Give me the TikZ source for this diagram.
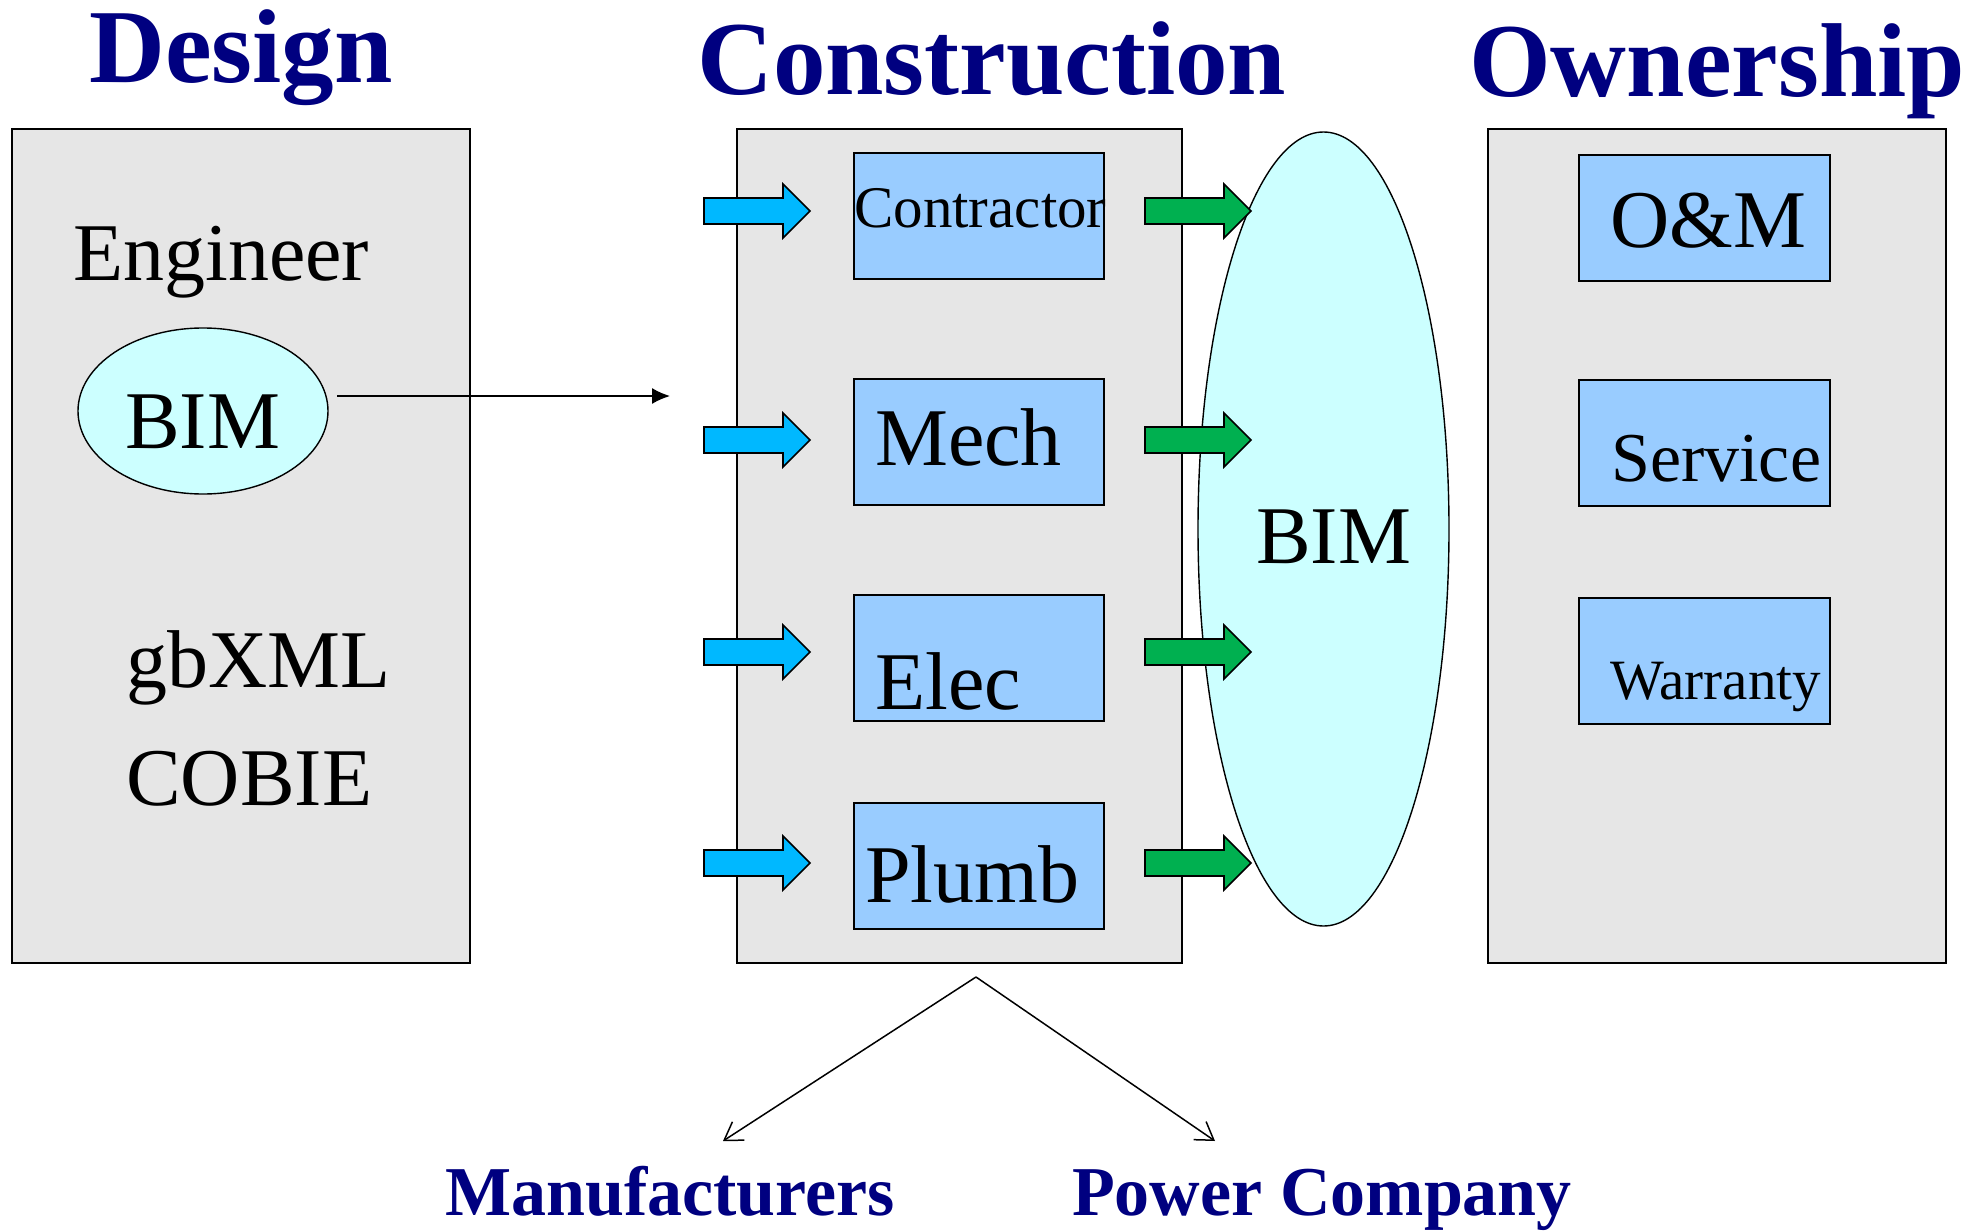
\documentclass[tikz,border=0pt]{standalone}
\usepackage{fontspec}
\setmainfont{Liberation Serif}
\usetikzlibrary{shapes.geometric,arrows.meta}
\definecolor{panelgray}{HTML}{E6E6E6}
\definecolor{boxblue}{HTML}{99CCFF}
\definecolor{bimcyan}{HTML}{CCFFFF}
\definecolor{arrblue}{HTML}{00B8FF}
\definecolor{arrgreen}{HTML}{00B050}
\definecolor{titlenavy}{HTML}{000080}
\begin{document}
\begin{tikzpicture}[x=1pt,y=-1pt,
  panel/.style={draw, fill=panelgray, line width=1.8pt, rectangle, inner sep=0pt, anchor=north west, minimum height=834pt},
  rolebox/.style={draw, fill=boxblue, line width=1.8pt, rectangle, inner sep=0pt, anchor=north west, minimum width=250pt, minimum height=126pt},
  bimoval/.style={draw, fill=bimcyan, line width=1.4pt, ellipse, inner sep=0pt},
  lbl/.style={anchor=base west, inner sep=0pt, font=\fontsize{82}{90}\selectfont},
  ttl/.style={anchor=base west, inner sep=0pt, text=titlenavy, font=\fontsize{105}{110}\selectfont\bfseries},
  subttl/.style={anchor=base west, inner sep=0pt, text=titlenavy, font=\fontsize{70}{76}\selectfont\bfseries},
  thinarrow/.style={line width=1.5pt},
  blockarr/.pic={\filldraw[fill=#1, draw=black, line width=1.6pt, line join=miter]
     (0,-13) -- (79,-13) -- (79,-27) -- (106,0) -- (79,27) -- (79,13) -- (0,13) -- cycle;}
]
\useasboundingbox[fill=white] (0,0) rectangle (1984,1231);

% panels
\node[panel, minimum width=458pt] (design) at (11,128) {};
\node[panel, minimum width=445pt] (constr) at (736,128) {};
\node[panel, minimum width=458pt] (owner) at (1487,128) {};

% construction role boxes
\node[rolebox] (contractor) at (853,152) {};
\node[rolebox] (mech) at (853,378) {};
\node[rolebox] (elec) at (853,594) {};
\node[rolebox] (plumb) at (853,802) {};

% ownership boxes
\node[rolebox, minimum width=251pt] (om) at (1578,154) {};
\node[rolebox, minimum width=251pt] (service) at (1578,379) {};
\node[rolebox, minimum width=251pt] (warranty) at (1578,597) {};

% ellipses
\node[bimoval, minimum width=250pt, minimum height=166pt] (bimsmall) at (203,411) {};
\node[bimoval, minimum width=251pt, minimum height=794pt] (bimbig) at (1323.5,529) {};

% titles
\node[ttl] (tdesign) at (89,82) {Design};
\node[ttl] (tconstr) at (697,95) {Construction};
\node[ttl] (towner) at (1469,96) {Ownership};

% design panel texts
\node[lbl] (tengineer) at (73,280) {Engineer};
\node[lbl] (tbimsmall) at (125,448) {BIM};
\node[lbl] (tgbxml) at (126,687) {gbXML};
\node[lbl] (tcobie) at (126,805) {COBIE};

% construction texts
\node[lbl, font=\fontsize{59}{64}\selectfont] (tcontractor) at (854,227) {Contractor};
\node[lbl] (tmech) at (875,465) {Mech};
\node[lbl] (telec) at (875,709) {Elec};
\node[lbl] (tplumb) at (865,902) {Plumb};
\node[lbl] (tbimbig) at (1256,563) {BIM};

% ownership texts
\node[lbl] (tom) at (1610,247) {O\&M};
\node[lbl, font=\fontsize{70}{76}\selectfont] (tservice) at (1611,481) {Service};
\node[lbl, font=\fontsize{57}{62}\selectfont] (twarranty) at (1610,699) {Warranty};

% bottom labels
\node[subttl] (tmanu) at (445,1215) {Manufacturers};
\node[subttl] (tpower) at (1072,1215) {Power Company};

% block arrows
\pic (ba1) at (704,211) {blockarr=arrblue};
\pic (ba2) at (704,440) {blockarr=arrblue};
\pic (ba3) at (704,652) {blockarr=arrblue};
\pic (ba4) at (704,863) {blockarr=arrblue};
\pic (ga1) at (1145,211) {blockarr=arrgreen};
\pic (ga2) at (1145,440) {blockarr=arrgreen};
\pic (ga3) at (1145,652) {blockarr=arrgreen};
\pic (ga4) at (1145,863) {blockarr=arrgreen};

% thin connectors
\coordinate (bimout) at (337,396);
\coordinate (bimin) at (670,396);
\draw[thinarrow, -{Latex[length=18pt,width=16pt]}] (bimout) -- (bimin);

\coordinate (apex) at (976,977);
\coordinate (manuend) at (723,1141);
\coordinate (powerend) at (1215,1141);
\draw[thinarrow, line join=miter, -{Straight Barb[length=17pt,width=22pt]}] (apex) -- (manuend);
\draw[thinarrow, line join=miter, -{Straight Barb[length=17pt,width=22pt]}] (apex) -- (powerend);
\end{tikzpicture}
\end{document}
